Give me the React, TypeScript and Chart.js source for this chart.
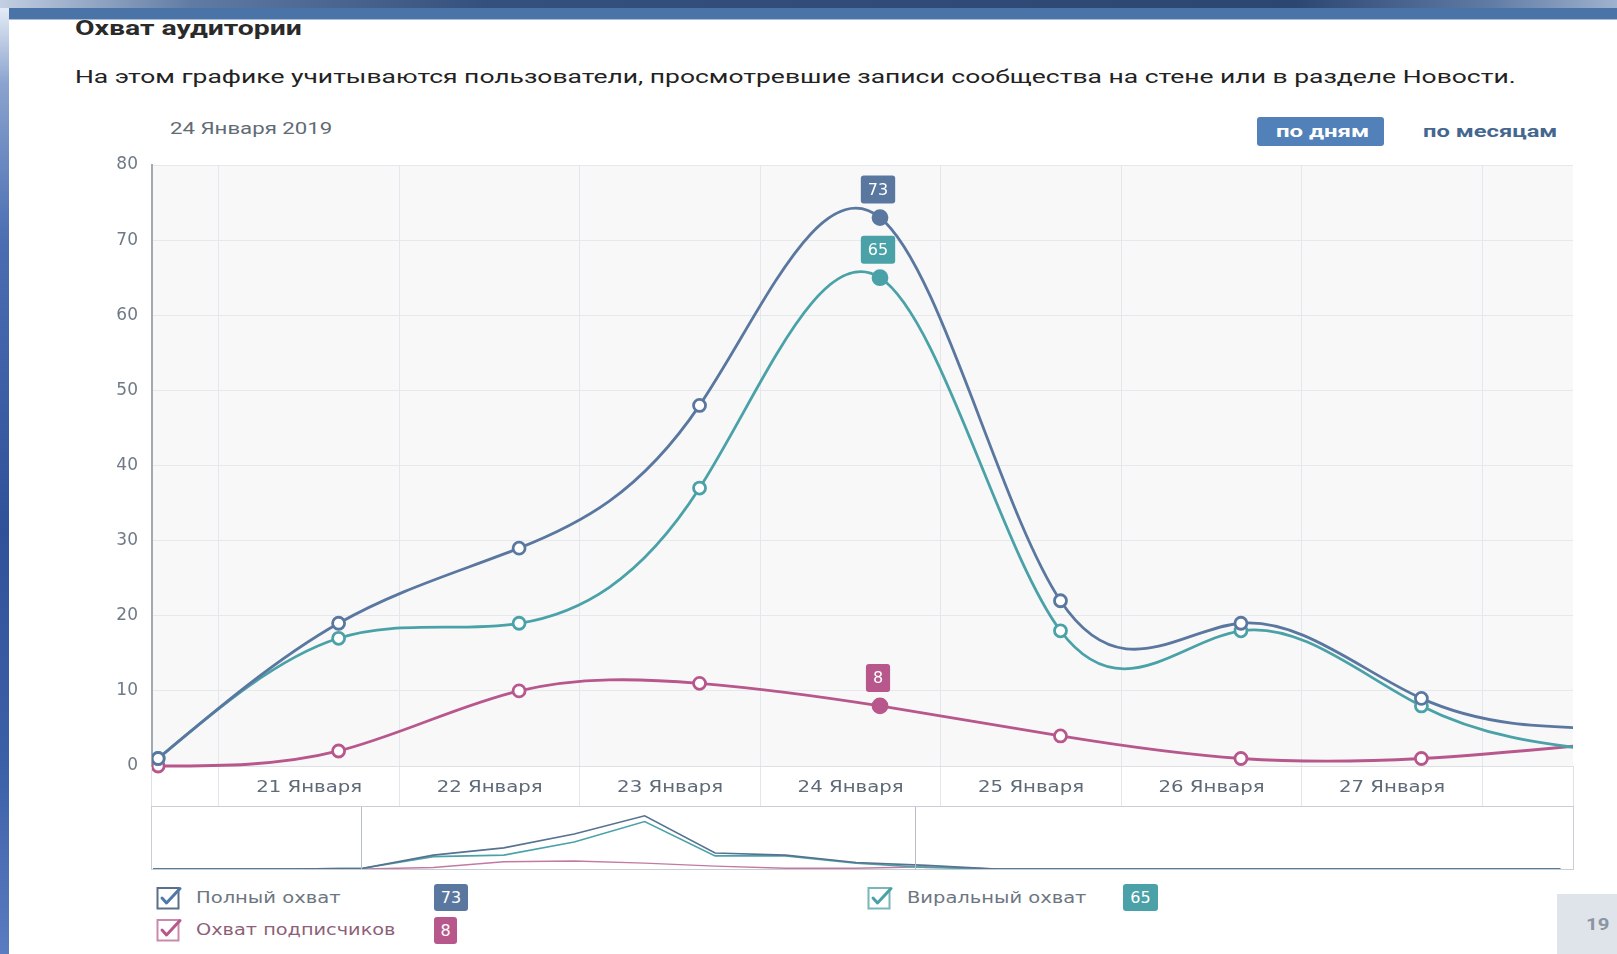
import React, { useEffect, useLayoutEffect, useRef, useState } from 'react';
import { Chart, registerables } from 'chart.js';

Chart.register(...registerables);

// ---- data ----
// day index 0 = 20 Января ... 8 = 28 Января
const dayIndex = [0, 1, 2, 3, 4, 5, 6, 7, 8];
const fullReach = [1, 19, 29, 48, 73, 22, 19, 9, 5];
const viralReach = [1, 17, 19, 37, 65, 18, 18, 8, 2];
const subscriberReach = [0, 2, 10, 11, 8, 4, 1, 1, 3];
const xCellLabels = ['21 Января', '22 Января', '23 Января', '24 Января', '25 Января', '26 Января', '27 Января', ''];
const highlightIndex = 4;
const highlightTitle = '24 Января 2019';

// navigator (overview strip) series, day index -3 ... 17
const navIndex = [-3, -2, -1, 0, 1, 2, 3, 4, 5, 6, 7, 8, 9, 10, 11, 12, 13, 14, 15, 16, 17];
const navFull = [0, 0, 0, 1, 19, 29, 48, 73, 22, 19, 9, 5, 0, 0, 0, 0, 0, 0, 0, 0, 0];
const navViral = [0, 0, 0, 1, 17, 19, 37, 65, 18, 18, 8, 2, 0, 0, 0, 0, 0, 0, 0, 0, 0];
const navSubs = [0, 0, 0, 0, 2, 10, 11, 8, 4, 1, 1, 3, 0, 0, 0, 0, 0, 0, 0, 0, 0];

const seriesNames = ['Полный охват', 'Виральный охват', 'Охват подписчиков'];
const BLUE = '#5a789f';
const TEAL = '#4aa2a8';
const PINK = '#b8578c';

// view window (in day units) & grid offset
const X_MIN = -0.034;
const X_MAX = 7.84;
const GRID_SHIFT = 0.337;
const NAV_MIN = -2.98;
const NAV_MAX = 17.18;

const CHART_FONT = '"DejaVu Sans", Verdana, sans-serif';

function FitText({ text, width, style }: { text: string; width: number; style?: React.CSSProperties }) {
  const ref = useRef<HTMLSpanElement>(null);
  const [sx, setSx] = useState(1);
  useLayoutEffect(() => {
    if (ref.current) {
      const w = ref.current.offsetWidth;
      if (w) setSx(width / w);
    }
  }, [text, width]);
  return (
    <span
      ref={ref}
      style={{
        display: 'inline-block',
        whiteSpace: 'nowrap',
        transformOrigin: 'left center',
        transform: `scaleX(${sx})`,
        ...style,
      }}
    >
      {text}
    </span>
  );
}

function TextAt({ left, cy, text, width, style }: { left: number; cy: number; text: string; width: number; style?: React.CSSProperties }) {
  return (
    <div style={{ position: 'absolute', left, top: cy, transform: 'translateY(-50%)', lineHeight: 1.2 }}>
      <FitText text={text} width={width} style={style} />
    </div>
  );
}

function Badge({ left, top, value, color, width }: { left: number; top: number; value: number; color: string; width: number }) {
  return (
    <div
      style={{
        position: 'absolute',
        left,
        top,
        width,
        height: 27,
        background: color,
        borderRadius: 3,
        color: '#fff',
        fontFamily: CHART_FONT,
        fontSize: 16,
        display: 'flex',
        alignItems: 'center',
        justifyContent: 'center',
      }}
    >
      {value}
    </div>
  );
}

function CheckBox({ left, top, color, frame }: { left: number; top: number; color: string; frame: string }) {
  return (
    <svg style={{ position: 'absolute', left, top }} width={27} height={25} viewBox="0 0 27 25">
      <rect x={1.5} y={3} width={21} height={20.5} fill="#fff" stroke={frame} strokeWidth={2} />
      <path d="M6 13 L10.5 18 L24 3.5" fill="none" stroke={color} strokeWidth={3} strokeLinecap="round" strokeLinejoin="round" />
    </svg>
  );
}

function MainChart() {
  const ref = useRef<HTMLCanvasElement>(null);
  useEffect(() => {
    if (!ref.current) return;
    const mk = (vals: number[]) => dayIndex.map((x, i) => ({ x, y: vals[i] }));
    const pointStyle = (color: string) => ({
      borderColor: color,
      borderWidth: 2.8,
      pointRadius: (c: any) => (c.dataIndex === highlightIndex ? 7 : 6),
      pointBorderWidth: 2.8,
      pointBorderColor: color,
      pointBackgroundColor: (c: any) => (c.dataIndex === highlightIndex ? color : '#ffffff'),
      tension: 0.4,
      fill: false,
      clip: { left: 0, right: 0, top: 12, bottom: 12 },
    });

    const plotBg = {
      id: 'plotBg',
      beforeDraw(chart: any) {
        const { ctx, chartArea: a } = chart;
        ctx.save();
        ctx.fillStyle = '#f8f8f9';
        ctx.fillRect(a.left, a.top, a.right - a.left, a.bottom - a.top);
        ctx.restore();
      },
    };

    // natural cubic spline control points, computed from the scaled point positions
    const spline = {
      id: 'spline',
      beforeDatasetDraw(chart: any, args: any) {
        const meta = args.meta;
        const line = meta.dataset;
        const pts = meta.data;
        if (!line || !pts || pts.length < 2) return;
        const n = pts.length;
        for (let i = 0; i < n; i++) if (pts[i].x == null || pts[i].y == null) return;
        const ys: number[] = pts.map((p: any) => p.y);
        const M: number[] = new Array(n).fill(0);
        if (n > 2) {
          const m = n - 2;
          const c: number[] = new Array(m).fill(0);
          const d: number[] = new Array(m).fill(0);
          for (let k = 0; k < m; k++) {
            const i = k + 1;
            const rhs = 6 * (ys[i + 1] - 2 * ys[i] + ys[i - 1]);
            if (k === 0) {
              c[k] = 1 / 4;
              d[k] = rhs / 4;
            } else {
              const den = 4 - c[k - 1];
              c[k] = 1 / den;
              d[k] = (rhs - d[k - 1]) / den;
            }
          }
          for (let k = m - 1; k >= 0; k--) {
            M[k + 1] = d[k] - c[k] * M[k + 2];
          }
        }
        const D = ys.map((y, i) =>
          i < n - 1 ? ys[i + 1] - y - (2 * M[i] + M[i + 1]) / 6 : y - ys[i - 1] + (M[i - 1] + 2 * M[i]) / 6
        );
        for (let i = 0; i < n; i++) {
          const p = pts[i];
          const dxPrev = i > 0 ? p.x - pts[i - 1].x : 0;
          const dxNext = i < n - 1 ? pts[i + 1].x - p.x : 0;
          p.cp1x = p.x - dxPrev / 3;
          p.cp1y = p.y - D[i] / 3;
          p.cp2x = p.x + dxNext / 3;
          p.cp2y = p.y + D[i] / 3;
        }
        line._pointsUpdated = true;
      },
    };

    const cellLabels = {
      id: 'cellLabels',
      afterDraw(chart: any) {
        const sc = chart.scales.x;
        const ctx = chart.ctx;
        ctx.save();
        ctx.font = `15px ${CHART_FONT}`;
        ctx.fillStyle = '#5e6a77';
        ctx.textAlign = 'center';
        ctx.textBaseline = 'middle';
        const natural = ctx.measureText(xCellLabels[0]).width || 1;
        const stretch = 106 / natural;
        sc.ticks.forEach((t: any, i: number) => {
          const label = xCellLabels[i];
          if (!label) return;
          const cx = (sc.getPixelForValue(t.value) + sc.getPixelForValue(t.value + 1)) / 2;
          const cy = sc.top + 22;
          ctx.save();
          ctx.translate(cx, cy);
          ctx.scale(stretch, 1);
          ctx.fillText(label, 0, 0);
          ctx.restore();
        });
        ctx.restore();
      },
    };

    const valueBoxes = {
      id: 'valueBoxes',
      afterDatasetsDraw(chart: any) {
        const ctx = chart.ctx;
        chart.data.datasets.forEach((ds: any, di: number) => {
          const meta = chart.getDatasetMeta(di);
          const pt = meta.data[highlightIndex];
          const text = String(ds.data[highlightIndex].y);
          ctx.save();
          ctx.font = `16px ${CHART_FONT}`;
          const tw = ctx.measureText(text).width;
          const w = tw + 14;
          const h = 28;
          const x = pt.x - w / 2 - 2;
          const y = pt.y - 14 - h;
          ctx.fillStyle = ds.borderColor;
          ctx.beginPath();
          ctx.roundRect(x, y, w, h, 3);
          ctx.fill();
          ctx.fillStyle = '#ffffff';
          ctx.textAlign = 'center';
          ctx.textBaseline = 'middle';
          ctx.fillText(text, x + w / 2, y + h / 2 + 1);
          ctx.restore();
        });
      },
    };

    const chart = new Chart(ref.current, {
      type: 'line',
      data: {
        datasets: [
          { label: seriesNames[0], data: mk(fullReach), ...pointStyle(BLUE) } as any,
          { label: seriesNames[1], data: mk(viralReach), ...pointStyle(TEAL) } as any,
          { label: seriesNames[2], data: mk(subscriberReach), ...pointStyle(PINK) } as any,
        ],
      },
      options: {
        animation: false,
        responsive: false,
        events: [],
        layout: { padding: { top: 25, right: 44, bottom: 14, left: 0 } },
        plugins: { legend: { display: false }, tooltip: { enabled: false } },
        scales: {
          x: {
            type: 'linear',
            min: X_MIN,
            max: X_MAX,
            afterBuildTicks: (s: any) => {
              s.ticks = xCellLabels.map((_, i) => ({ value: i + GRID_SHIFT }));
            },
            afterFit: (s: any) => {
              s.height = 40;
            },
            ticks: { display: false },
            grid: { color: '#e3e6ea', tickColor: '#e3e6ea', tickLength: 40, drawTicks: true, lineWidth: 1 },
            border: { display: true, color: '#dde1e6', width: 1 },
          },
          y: {
            min: 0,
            max: 80,
            afterFit: (s: any) => {
              s.width = 62;
            },
            ticks: {
              stepSize: 10,
              padding: 14,
              color: '#6f7a86',
              font: { family: CHART_FONT, size: 17 },
            },
            grid: { color: '#e6e8eb', drawTicks: false },
            border: { display: true, color: '#a3a9b1', width: 2 },
          },
        },
      },
      plugins: [plotBg, spline, cellLabels, valueBoxes],
    } as any);
    return () => chart.destroy();
  }, []);
  return (
    <canvas
      ref={ref}
      width={1527}
      height={680}
      style={{ position: 'absolute', left: 90, top: 140, width: 1527, height: 680 }}
    />
  );
}

function Navigator() {
  const ref = useRef<HTMLCanvasElement>(null);
  useEffect(() => {
    if (!ref.current) return;
    const mk = (vals: number[]) => navIndex.map((x, i) => ({ x, y: vals[i] }));
    const windowLines = {
      id: 'windowLines',
      afterDraw(chart: any) {
        const sc = chart.scales.x;
        const ctx = chart.ctx;
        ctx.save();
        ctx.strokeStyle = '#b6bec9';
        ctx.lineWidth = 1;
        [X_MIN, X_MAX].forEach((v) => {
          const px = Math.round(sc.getPixelForValue(v)) + 0.5;
          ctx.beginPath();
          ctx.moveTo(px, 0);
          ctx.lineTo(px, chart.height);
          ctx.stroke();
        });
        ctx.restore();
      },
    };
    const chart = new Chart(ref.current, {
      type: 'line',
      data: {
        datasets: [
          { data: mk(navFull), borderColor: '#56728f', borderWidth: 1.6, pointRadius: 0, tension: 0 },
          { data: mk(navViral), borderColor: '#4aa2a8', borderWidth: 1.6, pointRadius: 0, tension: 0 },
          { data: mk(navSubs), borderColor: '#c27aa2', borderWidth: 1.4, pointRadius: 0, tension: 0 },
        ],
      },
      options: {
        animation: false,
        responsive: false,
        events: [],
        layout: { padding: 0 },
        plugins: { legend: { display: false }, tooltip: { enabled: false } },
        scales: {
          x: { type: 'linear', min: NAV_MIN, max: NAV_MAX, display: false },
          y: { min: 0, max: 85, display: false },
        },
      },
      plugins: [windowLines],
    } as any);
    return () => chart.destroy();
  }, []);
  return (
    <canvas
      ref={ref}
      width={1420}
      height={62}
      style={{ position: 'absolute', left: 1, top: 0, width: 1420, height: 62 }}
    />
  );
}

export default function App() {
  const roboto = '"Roboto", "Noto Sans", sans-serif';
  return (
    <div
      style={{
        position: 'fixed',
        left: 0,
        top: 0,
        width: 1617,
        height: 954,
        overflow: 'hidden',
        background: '#ffffff',
        fontFamily: roboto,
      }}
    >
      {/* slide decoration */}
      <div
        style={{
          position: 'absolute',
          left: 0,
          top: 0,
          width: 1617,
          height: 8,
          background: 'linear-gradient(to right, #c3cfe2 0%, #5f7aa3 12%, #34507c 30%, #2c4672 80%, #5f7aa3 92%, #9fb2cf 100%)',
        }}
      />
      <div style={{ position: 'absolute', left: 7, top: 8, width: 1610, height: 11, background: '#4a74a7' }} />
      <div style={{ position: 'absolute', left: 7, top: 19, width: 1610, height: 1, background: '#a9bdd6' }} />
      <div
        style={{
          position: 'absolute',
          left: 0,
          top: 8,
          width: 9,
          height: 946,
          background: 'linear-gradient(to bottom, #e4ebf5 0%, #8aa3cf 8%, #4a6db2 25%, #2f5199 55%, #3c60a8 80%, #5a7cc0 100%)',
        }}
      />

      {/* header texts */}
      <TextAt left={75} cy={28} text="Охват аудитории" width={227} style={{ fontWeight: 700, fontSize: 20, color: '#2a2a2a' }} />
      <TextAt
        left={75}
        cy={77}
        text="На этом графике учитываются пользователи, просмотревшие записи сообщества на стене или в разделе Новости."
        width={1441}
        style={{ fontSize: 19, color: '#222222' }}
      />
      <TextAt left={170} cy={128} text={highlightTitle} width={162} style={{ fontSize: 17, color: '#626b75' }} />

      <div style={{ position: 'absolute', left: 1257, top: 117, width: 127, height: 29, background: '#5181b8', borderRadius: 3 }} />
      <TextAt left={1276} cy={131} text="по дням" width={93} style={{ fontSize: 17, fontWeight: 700, color: '#ffffff' }} />
      <TextAt left={1423} cy={131} text="по месяцам" width={134} style={{ fontSize: 17, fontWeight: 700, color: '#45678f' }} />

      {/* label band & navigator frames */}
      <div
        style={{
          position: 'absolute',
          left: 151,
          top: 766,
          width: 1421,
          height: 40,
          background: '#ffffff',
          borderLeft: '1px solid #dde1e6',
          borderRight: '1px solid #dde1e6',
        }}
      />
      <MainChart />
      <div
        style={{
          position: 'absolute',
          left: 151,
          top: 806,
          width: 1421,
          height: 62,
          border: '1px solid #c8ced6',
          background: '#ffffff',
        }}
      >
        <Navigator />
      </div>

      {/* legend */}
      <CheckBox left={156} top={885} color="#4f77a8" frame="#5a6f88" />
      <TextAt left={196} cy={898} text={seriesNames[0]} width={144} style={{ fontFamily: CHART_FONT, fontSize: 16, color: '#6d7681' }} />
      <Badge left={434} top={884} value={fullReach[highlightIndex]} color={BLUE} width={34} />

      <CheckBox left={156} top={917} color="#b8578c" frame="#c98aab" />
      <TextAt left={196} cy={930} text={seriesNames[2]} width={199} style={{ fontFamily: CHART_FONT, fontSize: 16, color: '#8e5f78' }} />
      <Badge left={434} top={917} value={subscriberReach[highlightIndex]} color={PINK} width={23} />

      <CheckBox left={867} top={885} color="#4aa2a8" frame="#79b6ba" />
      <TextAt left={907} cy={898} text={seriesNames[1]} width={179} style={{ fontFamily: CHART_FONT, fontSize: 16, color: '#6d7681' }} />
      <Badge left={1123} top={884} value={viralReach[highlightIndex]} color={TEAL} width={35} />

      {/* slide number */}
      <div style={{ position: 'absolute', left: 1557, top: 894, width: 60, height: 60, background: '#dfe3ea' }} />
      <TextAt left={1586} cy={924} text="19" width={24} style={{ fontSize: 17, fontWeight: 700, color: '#8a94a2' }} />
    </div>
  );
}
